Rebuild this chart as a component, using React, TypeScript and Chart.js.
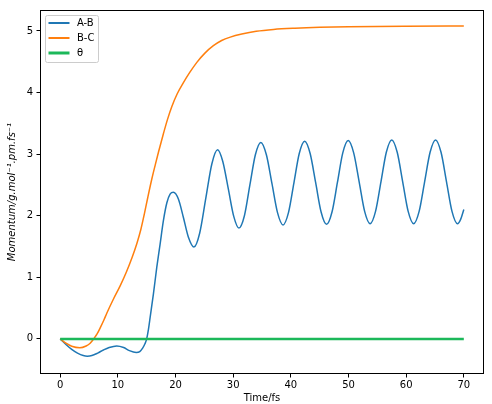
import React, { useEffect, useRef } from "react";
import { Chart, registerables } from "chart.js";

Chart.register(...registerables);

const seriesLabels = ["A-B", "B-C", "θ"];
const seriesColors = ["#1f77b4", "#ff7f0e", "#1cb85a"];

const abTime = [
  0, 1, 2, 3, 4, 4.7, 5.5, 6.5, 7.5, 8.5, 9.8, 11, 12, 13.2, 13.8, 14.3, 14.7, 15, 15.3, 15.6, 16.17, 16.75,
  17.33, 17.9, 18.5, 19.06, 19.64, 20.5, 21.37, 22.24, 23.2,
  24.2, 25.25, 26.3, 27.3, 28.2, 29.15, 30.1, 31.0, 31.95, 32.9, 33.85, 34.8,
  35.76, 36.73, 37.69, 38.65, 39.59, 40.53, 41.46, 42.4, 43.35, 44.3, 45.25, 46.2,
  47.14, 48.08, 49.01, 49.95, 50.9, 51.85, 52.8, 53.75, 54.69, 55.63, 56.56, 57.5,
  58.45, 59.4, 60.35, 61.3, 62.25, 63.2, 64.15, 65.1, 66.05, 67.0, 67.95, 68.9, 69.45, 70,
];
const abMomentum = [
  0, -0.09, -0.17, -0.23, -0.27, -0.28, -0.27, -0.23, -0.18, -0.14, -0.115, -0.14, -0.19, -0.22, -0.205, -0.15, -0.08, 0, 0.15, 0.35, 0.73, 1.16,
  1.54, 1.92, 2.21, 2.35, 2.38, 2.27, 1.97, 1.65, 1.49,
  1.72, 2.28, 2.84, 3.07, 2.88, 2.44, 1.99, 1.8, 2.0, 2.5, 2.99, 3.19,
  2.99, 2.52, 2.05, 1.85, 2.05, 2.53, 3.01, 3.21, 3.01, 2.54, 2.06, 1.86,
  2.06, 2.54, 3.02, 3.22, 3.02, 2.55, 2.07, 1.87, 2.07, 2.55, 3.03, 3.23,
  3.03, 2.55, 2.07, 1.87, 2.07, 2.55, 3.03, 3.23, 3.03, 2.55, 2.07, 1.87, 1.94, 2.1,
];

const bcTime = [
  0, 1, 2, 3.4, 4.5, 5.2, 5.8, 6.4, 7, 7.6, 8.1, 9.2, 10.4, 11.5, 12.5, 13.3, 14.0, 14.6, 15.2, 15.9, 16.5,
  17.04, 17.9, 18.6, 19.35, 20.3, 21.37, 22.5, 23.7, 25.1, 26.57, 28, 29.5, 31.5, 34, 37, 40.7, 45, 50, 60, 70,
];
const bcMomentum = [
  0, -0.07, -0.12, -0.145, -0.115, -0.07, 0.0, 0.08, 0.19, 0.31, 0.42, 0.64, 0.86, 1.09, 1.33, 1.55, 1.78, 2.03, 2.3, 2.6, 2.83,
  3.03, 3.33, 3.56, 3.77, 3.98, 4.16, 4.33, 4.49, 4.64, 4.76, 4.845, 4.9, 4.95, 4.995, 5.025, 5.045, 5.06, 5.07, 5.078, 5.08,
];

const thetaTime = [0, 70];
const thetaMomentum = [0, 0];

const xTicks = [0, 10, 20, 30, 40, 50, 60, 70];
const yTicks = [0, 1, 2, 3, 4, 5];

const FONT = "DejaVu Sans";

const toPoints = (t: number[], v: number[]) => t.map((x, i) => ({ x, y: v[i] }));

const framePlugin = {
  id: "frame",
  afterDatasetsDraw(chart: any) {
    const { ctx, chartArea } = chart;
    const l = Math.round(chartArea.left) + 0.5;
    const r = Math.round(chartArea.right) - 0.5;
    const t = Math.round(chartArea.top) + 0.5;
    const b = Math.round(chartArea.bottom) - 0.5;
    ctx.save();
    ctx.strokeStyle = "#000";
    ctx.lineWidth = 1;
    ctx.strokeRect(l, t, r - l, b - t);
    ctx.restore();
  },
};

const legendPlugin = {
  id: "mplLegend",
  afterDraw(chart: any) {
    const { ctx, chartArea } = chart;
    const x0 = chartArea.left + 5.5;
    const y0 = chartArea.top + 5.5;
    const w = 53;
    const h = 47;
    ctx.save();
    ctx.fillStyle = "rgba(255,255,255,0.8)";
    ctx.strokeStyle = "#cccccc";
    ctx.lineWidth = 1;
    ctx.beginPath();
    const rr = 2;
    ctx.moveTo(x0 + rr, y0);
    ctx.lineTo(x0 + w - rr, y0);
    ctx.arcTo(x0 + w, y0, x0 + w, y0 + rr, rr);
    ctx.lineTo(x0 + w, y0 + h - rr);
    ctx.arcTo(x0 + w, y0 + h, x0 + w - rr, y0 + h, rr);
    ctx.lineTo(x0 + rr, y0 + h);
    ctx.arcTo(x0, y0 + h, x0, y0 + h - rr, rr);
    ctx.lineTo(x0, y0 + rr);
    ctx.arcTo(x0, y0, x0 + rr, y0, rr);
    ctx.closePath();
    ctx.fill();
    ctx.stroke();
    chart.data.datasets.forEach((ds: any, i: number) => {
      const y = y0 + 7.5 + i * 15;
      ctx.strokeStyle = ds.borderColor;
      ctx.lineWidth = ds.borderWidth + 0.5;
      ctx.beginPath();
      ctx.moveTo(x0 + 3, y);
      ctx.lineTo(x0 + 24, y);
      ctx.stroke();
      ctx.fillStyle = "#000";
      ctx.font = `10px "${FONT}"`;
      ctx.textBaseline = "middle";
      ctx.textAlign = "left";
      ctx.fillText(ds.label, x0 + 31.5, y);
    });
    ctx.restore();
  },
};

export default function App() {
  const canvasRef = useRef<HTMLCanvasElement | null>(null);

  useEffect(() => {
    const canvas = canvasRef.current;
    if (!canvas) return;
    const tickFont = { family: FONT, size: 10 };
    const chart = new Chart(canvas, {
      type: "line",
      data: {
        datasets: [
          {
            label: seriesLabels[0],
            data: toPoints(abTime, abMomentum),
            borderColor: seriesColors[0],
            borderWidth: 1.5,
            pointRadius: 0,
            cubicInterpolationMode: "monotone",
            fill: false,
            order: 3,
          },
          {
            label: seriesLabels[1],
            data: toPoints(bcTime, bcMomentum),
            borderColor: seriesColors[1],
            borderWidth: 1.5,
            pointRadius: 0,
            cubicInterpolationMode: "monotone",
            fill: false,
            order: 2,
          },
          {
            label: seriesLabels[2],
            data: toPoints(thetaTime, thetaMomentum),
            borderColor: seriesColors[2],
            borderWidth: 2.5,
            pointRadius: 0,
            fill: false,
            order: 1,
          },
        ],
      },
      options: {
        animation: false,
        responsive: false,
        maintainAspectRatio: false,
        layout: { padding: { top: 10, right: 8, left: 0, bottom: 0 } },
        plugins: {
          legend: { display: false },
          tooltip: { enabled: false },
        },
        scales: {
          x: {
            type: "linear",
            min: -3.5,
            max: 73.5,
            afterBuildTicks: (scale: any) => {
              scale.ticks = xTicks.map((v) => ({ value: v }));
            },
            afterFit: (scale: any) => {
              scale.height = 30;
            },
            grid: {
              drawOnChartArea: false,
              drawTicks: true,
              tickLength: 3.5,
              tickColor: "#000",
            },
            border: { display: false },
            ticks: {
              font: tickFont,
              color: "#000",
              padding: 2,
              maxRotation: 0,
              autoSkip: false,
            },
            title: {
              display: true,
              text: "Time/fs",
              font: tickFont,
              color: "#000",
              padding: { top: 0, bottom: 0 },
            },
          },
          y: {
            type: "linear",
            min: -0.57,
            max: 5.34,
            afterBuildTicks: (scale: any) => {
              scale.ticks = yTicks.map((v) => ({ value: v }));
            },
            afterFit: (scale: any) => {
              scale.width = 40;
            },
            grid: {
              drawOnChartArea: false,
              drawTicks: true,
              tickLength: 3.5,
              tickColor: "#000",
            },
            border: { display: false },
            ticks: {
              font: tickFont,
              color: "#000",
              padding: 3.5,
              autoSkip: false,
            },
            title: {
              display: true,
              text: "Momentum/g.mol⁻¹.pm.fs⁻¹",
              font: { family: FONT, size: 10, style: "italic" },
              color: "#000",
              padding: { top: 6, bottom: 0 },
            },
          },
        },
      },
      plugins: [framePlugin, legendPlugin],
    } as any);
    return () => chart.destroy();
  }, []);

  return (
    <div style={{ position: "fixed", left: 0, top: 0, width: 492, height: 404, background: "#fff" }}>
      <canvas ref={canvasRef} width={492} height={404} style={{ width: 492, height: 404, display: "block" }} />
    </div>
  );
}
